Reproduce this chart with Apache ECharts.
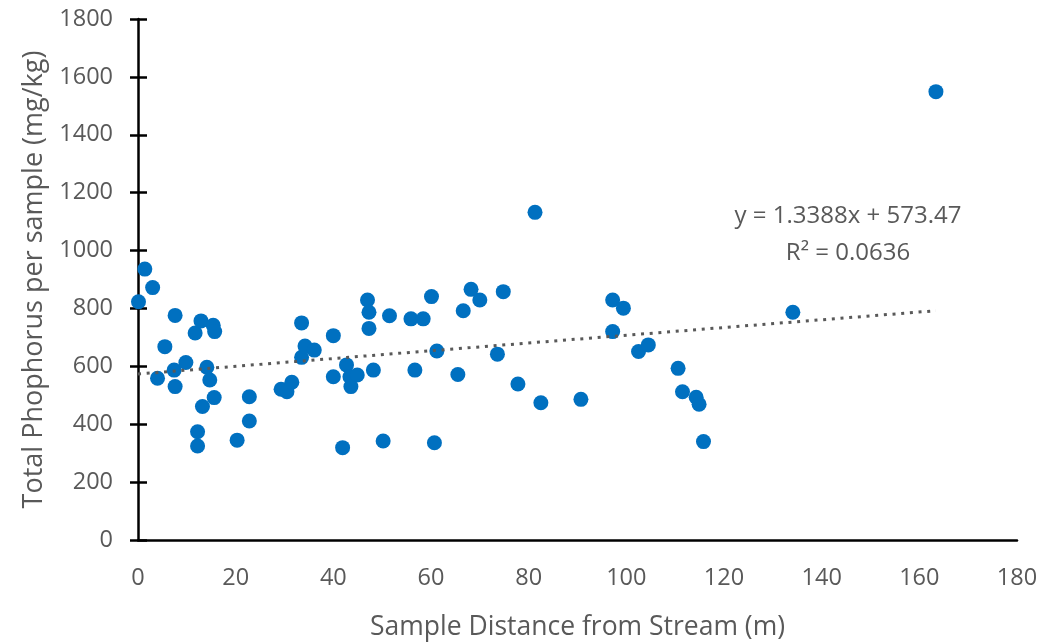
<!DOCTYPE html>
<html>
<head>
<meta charset="utf-8">
<script src="https://cdn.jsdelivr.net/npm/echarts@6/dist/echarts.min.js"></script>
<style>html,body{margin:0;padding:0;background:#fff}#c{width:1060px;height:643px}</style>
</head>
<body>
<div id="c"></div>
<script>
const distance = [0.1,1.4,3.0,4.0,5.5,7.6,7.4,7.6,9.8,11.7,12.2,12.2,12.9,13.2,14.1,14.7,15.4,15.7,15.6,20.3,22.8,22.8,29.3,30.5,31.5,33.5,33.5,34.2,36.1,40.0,40.0,41.9,42.7,43.4,43.6,44.9,47.0,47.3,47.3,48.2,50.2,51.5,55.9,56.7,58.4,60.1,60.7,61.2,65.5,66.6,68.2,70.0,73.6,74.8,77.8,81.3,82.5,90.7,97.2,97.2,99.4,102.5,104.5,110.6,111.5,114.3,114.9,115.8,134.1,163.4];
const phosphorus = [823,936,872,559,668,776,587,530,613,715,374,325,757,461,597,553,742,720,492,345,495,411,521,512,545,750,631,670,656,706,564,319,605,564,530,570,829,787,731,587,342,775,764,587,764,841,336,653,572,792,866,829,642,858,539,1132,474,486,829,720,801,651,674,593,512,493,469,340,787,1549];
const trendSlope = 1.3388;
const trendIntercept = 573.47;
const equationText = 'y = 1.3388x + 573.47';
const r2Text = 'R² = 0.0636';
const xTitle = 'Sample Distance from Stream (m)';
const yTitle = 'Total Phophorus per sample (mg/kg)';

const points = distance.map((d, i) => [d, phosphorus[i]]);
const xMax = Math.max(...distance);
const trend = [[0, trendIntercept], [xMax, trendSlope * xMax + trendIntercept]];

const FONT = 'Open Sans';
const GREY = '#595959';
const chart = echarts.init(document.getElementById('c'));
chart.setOption({
  animation: false,
  grid: {left: 138, right: 43, top: 19, bottom: 103, containLabel: false, outerBoundsMode: 'none'},
  xAxis: {
    type: 'value', min: 0, max: 180, interval: 20,
    name: xTitle, nameLocation: 'middle', nameGap: 74,
    nameTextStyle: {fontFamily: FONT, fontSize: 26.5, color: GREY},
    axisLine: {show: true, lineStyle: {color: '#000', width: 2.5}},
    axisTick: {show: false},
    axisLabel: {fontFamily: FONT, fontSize: 23.5, color: GREY, margin: 26},
    splitLine: {show: false}
  },
  yAxis: [{
    type: 'value', min: 0, max: 1800, interval: 200, offset: 0,
    name: yTitle, nameLocation: 'middle', nameGap: 90,
    nameTextStyle: {fontFamily: FONT, fontSize: 27, color: GREY},
    axisLine: {show: true, lineStyle: {color: '#000', width: 2.5}},
    axisTick: {show: true, length: 8, lineStyle: {color: '#000', width: 2.5}},
    axisLabel: {fontFamily: FONT, fontSize: 23.5, color: GREY, margin: 25, formatter: v => String(v)},
    splitLine: {show: false}
  }, {
    type: 'value', min: 0, max: 1800, interval: 200, position: 'left', offset: -9,
    axisLine: {show: false},
    axisTick: {show: true, inside: false, length: 9, lineStyle: {color: '#000', width: 2.5}},
    axisLabel: {show: false},
    splitLine: {show: false}
  }],
  series: [{
    type: 'scatter', data: points, symbol: 'circle', symbolSize: 15,
    itemStyle: {color: '#0070C0', opacity: 1}, z: 3
  }, {
    type: 'line', data: trend, symbol: 'none', z: 4,
    lineStyle: {color: GREY, width: 3, type: [3, 5.7]}
  }],
  graphic: [{
    type: 'text', x: 848, y: 198, z: 10,
    style: {text: equationText + '\n' + r2Text, fontFamily: FONT, fontSize: 24, fill: GREY, align: 'center', verticalAlign: 'top', lineHeight: 37}
  }]
});
</script>
</body>
</html>
